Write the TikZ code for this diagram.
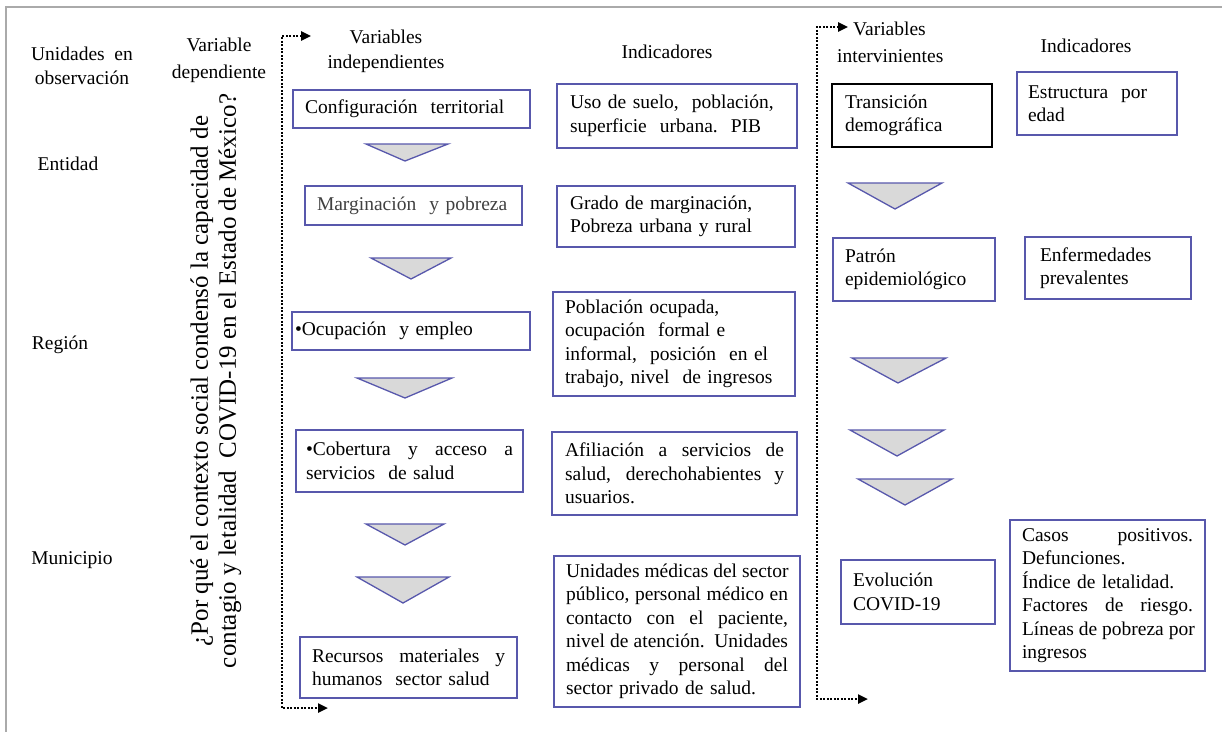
\documentclass[tikz,border=0pt]{standalone}
\usepackage{fontspec}
\setmainfont{Liberation Serif}
\usetikzlibrary{arrows.meta}
\definecolor{boxblue}{RGB}{88,88,172}
\definecolor{trifill}{RGB}{217,217,217}
\definecolor{framegray}{RGB}{170,170,170}
\newcommand{\justline}[1]{\makebox[\linewidth][s]{\spaceskip=0.25em plus 1fil\relax #1}}
\begin{document}
\begin{tikzpicture}[x=1pt,y=-1pt,
  every node/.style={font=\fontsize{19.5}{23.5}\selectfont, inner sep=0pt},
  box/.style={draw=boxblue, line width=1.3pt, align=left, inner ysep=0pt},
  blkbox/.style={draw=black, line width=1.3pt, align=left, inner ysep=0pt},
  head/.style={align=center},
  tri/.style={draw=boxblue, fill=trifill, line width=1.3pt, line join=miter},
  dotline/.style={line width=2.4pt, dash pattern=on 2pt off 1.5pt, {Triangle[length=10pt,width=9pt]}-{Triangle[length=10pt,width=9pt]}},
  frame/.style={draw=framegray, line width=1.8pt}
]
\useasboundingbox (0,0) rectangle (1222,732);
% frame
\draw[frame] (5,7) -- (1222,7);
\draw[frame] (6,7) -- (6,732);

% headers
\node[head, font=\fontsize{19.5}{24}\selectfont] (uo) at (82,66) {Unidades\ \ en\\observación};
\node[head, font=\fontsize{19.5}{27}\selectfont] (vd) at (219,60) {Variable\\dependiente};
\node[head, font=\fontsize{19.5}{25}\selectfont] (vi) at (386,51) {Variables\\independientes};
\node (ind1) at (667,52) {Indicadores};
\node[align=left, anchor=west, font=\fontsize{19.5}{27}\selectfont] (vint) at (837,42) {\hspace*{16pt}Variables\\intervinientes};
\node (ind2) at (1086,46) {Indicadores};
\node (ent) at (68,164) {Entidad};
\node (reg) at (60,345) {Región};
\node (mun) at (72,560) {Municipio};

% question
\node[head, rotate=90, font=\fontsize{25}{28}\selectfont] (q) at (216,381)
  {¿Por qué el contexto social condensó la capacidad de\\contagio y letalidad\ \ COVID-19 en el Estado de México?};

% independent variables
\node[box, inner xsep=12pt, text width=213pt, minimum height=38pt] (cfg) at (411.5,109) {Configuración\ \ territorial};
\node[box, inner xsep=12pt, text width=193pt, minimum height=39pt, text=black!75] (marg) at (413.5,205.5) {Marginación\ \ y pobreza};
\node[box, inner xsep=3pt, text width=232pt, minimum height=38pt] (ocup) at (411,331) {•Ocupación\ \ y empleo};
\node[box, inner xsep=10pt, text width=207pt, minimum height=62pt] (cob) at (409.5,461) {\justline{•Cobertura y acceso a}\\servicios\ \ de salud};
\node[box, inner xsep=12pt, text width=193pt, minimum height=61pt] (rec) at (408.5,667.5) {\justline{Recursos materiales y}\\humanos\ \ sector salud};

% indicators
\node[box, inner xsep=13pt, text width=214pt, minimum height=64pt] (i1) at (677,116) {Uso de suelo,\ \ población,\\superficie\ \ urbana.\ \ PIB};
\node[box, inner xsep=13pt, text width=212pt, minimum height=61pt] (i2) at (676,216.5) {Grado de marginación,\\Pobreza urbana y rural};
\node[box, inner xsep=12pt, text width=218pt, minimum height=104pt] (i3) at (674,344) {Población ocupada,\\ocupación\ \ formal e\\informal,\ \ posición\ \ en el\\trabajo, nivel\ \ de ingresos};
\node[box, inner xsep=13pt, text width=219pt, minimum height=83pt] (i4) at (674.5,473.5) {\justline{Afiliación a servicios de}\\\justline{salud, derechohabientes y}\\usuarios.};
\node[box, inner xsep=12pt, text width=222pt, minimum height=151pt] (i5) at (677,631.5) {\justline{Unidades médicas del sector}\\\justline{público, personal médico en}\\\justline{contacto con el paciente,}\\\justline{nivel de atención. Unidades}\\\justline{médicas y personal del}\\sector privado de salud.};

% intervening variables
\node[blkbox, inner xsep=13pt, text width=134pt, minimum height=63pt] (tran) at (912,115.5) {Transición\\demográfica};
\node[box, inner xsep=11pt, text width=138pt, minimum height=63pt] (estr) at (1097,103.5) {Estructura\ \ por\\edad};
\node[box, inner xsep=12pt, text width=138pt, minimum height=63pt] (pat) at (914,269.5) {Patrón\\epidemiológico};
\node[box, inner xsep=15pt, text width=136pt, minimum height=62pt] (enf) at (1108,268) {Enfermedades\\prevalentes};
\node[box, inner xsep=12pt, text width=130pt, minimum height=64pt] (evo) at (918,592) {Evolución\\COVID-19};
\node[box, inner xsep=12pt, text width=171pt, minimum height=151pt] (casos) at (1107.5,595.5) {\justline{Casos positivos.}\\Defunciones.\\Índice de letalidad.\\\justline{Factores de riesgo.}\\\justline{Líneas de pobreza por}\\ingresos};

% triangles
\draw[tri] (366,144) -- (448,144) -- (405,161) -- cycle;
\draw[tri] (371,258) -- (451,258) -- (411,279) -- cycle;
\draw[tri] (357,378) -- (452,378) -- (405,398) -- cycle;
\draw[tri] (366,524) -- (444,524) -- (405,545) -- cycle;
\draw[tri] (357,577) -- (449,577) -- (403,603) -- cycle;
\draw[tri] (848,183) -- (942,183) -- (895,209) -- cycle;
\draw[tri] (852,358) -- (946,358) -- (898,383) -- cycle;
\draw[tri] (850,430) -- (944,430) -- (897,456) -- cycle;
\draw[tri] (858,479) -- (952,479) -- (905,505) -- cycle;

% dotted connectors
\coordinate (la) at (311,36);
\coordinate (lb) at (282,36);
\coordinate (lc) at (282,708);
\coordinate (ld) at (328,708);
\draw[dotline] (la) -- (lb) -- (lc) -- (ld);
\coordinate (ra) at (848,27);
\coordinate (rb) at (817,27);
\coordinate (rc) at (817,699);
\coordinate (rd) at (868,699);
\draw[dotline] (ra) -- (rb) -- (rc) -- (rd);
\end{tikzpicture}
\end{document}
